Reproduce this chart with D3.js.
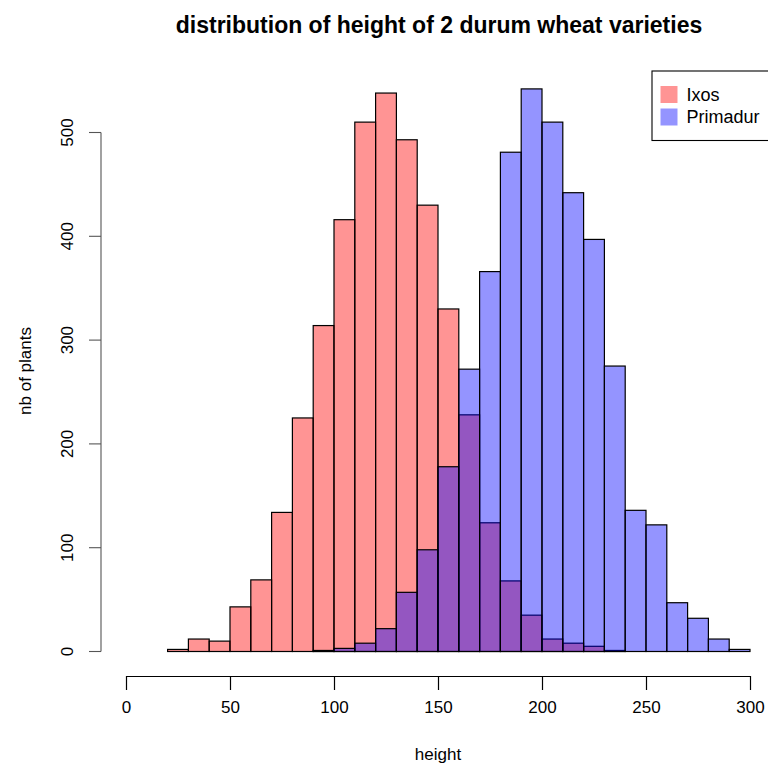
<!DOCTYPE html>
<html>
<head>
<meta charset="utf-8">
<script src="https://cdn.jsdelivr.net/npm/d3@7"></script>
<style>
  html, body { margin: 0; padding: 0; background: #fff; }
  svg { display: block; font-family: "Liberation Sans", Arial, Helvetica, sans-serif; }
</style>
</head>
<body>
<svg id="chart" width="768" height="765"></svg>
<script>
// ---- data (bin start, width 10) ----
const binWidth = 10;
const ixosBins = [20,30,40,50,60,70,80,90,100,110,120,130,140,150,160,170,180,190,200,210,220,230];
const ixosCounts = [2,12,10,43,69,134,225,314,416,510,538,493,430,330,228,124,68,35,12,8,5,1];
const primadurBins = [80,90,100,110,120,130,140,150,160,170,180,190,200,210,220,230,240,250,260,270,280,290,300];
const primadurCounts = [0,1,3,8,22,57,98,178,272,366,481,542,510,442,397,275,136,122,47,32,12,2,0];
const xTicks = [0,50,100,150,200,250,300];
const yTicks = [0,100,200,300,400,500];
const seriesNames = ["Ixos","Primadur"];
const seriesColors = ["rgba(255,0,0,0.42)","rgba(0,0,255,0.42)"];
const titleText = "distribution of height of 2 durum wheat varieties";
const xLabel = "height";
const yLabel = "nb of plants";

const svg = d3.select("#chart");
const x = d3.scaleLinear().domain([0,300]).range([126,750]);
const y = d3.scaleLinear().domain([0,500]).range([651.5,132.5]);

function drawHist(bins, counts, color) {
  svg.append("g").selectAll("rect")
    .data(bins.map((b,i)=>({x0:b, x1:b+binWidth, n:counts[i]})))
    .join("rect")
    .attr("x", d=>x(d.x0))
    .attr("width", d=>x(d.x1)-x(d.x0))
    .attr("y", d=>y(d.n))
    .attr("height", d=>y(0)-y(d.n))
    .attr("fill", color)
    .attr("stroke", "#000")
    .attr("stroke-width", 1.2);
}
drawHist(ixosBins, ixosCounts, seriesColors[0]);
drawHist(primadurBins, primadurCounts, seriesColors[1]);

// x axis
const gx = svg.append("g").attr("transform","translate(0,676)")
  .call(d3.axisBottom(x).tickValues(xTicks).tickSize(14).tickSizeOuter(0));
gx.selectAll("path,line").attr("stroke","#000").attr("stroke-width",1.2);
gx.selectAll("text").attr("y",37).attr("dy",0).attr("fill","#000")
  .style("font-size","17px").style("font-family","Liberation Sans, Arial, sans-serif");

// y axis
const gy = svg.append("g").attr("transform","translate(101,0)")
  .call(d3.axisLeft(y).tickValues(yTicks).tickSize(12).tickSizeOuter(0).offset(0));
gy.selectAll("path,line").attr("stroke","#555").attr("stroke-width",1.1);
gy.selectAll("text").attr("x",0).attr("dy",0).attr("text-anchor","middle")
  .attr("transform","translate(-28,0) rotate(-90)").attr("fill","#000")
  .style("font-size","17px").style("font-family","Liberation Sans, Arial, sans-serif");

// title & labels
svg.append("text").attr("x",439).attr("y",33).attr("text-anchor","middle")
  .style("font-weight","bold").style("font-size","23px").text(titleText);
svg.append("text").attr("x",438).attr("y",760).attr("text-anchor","middle")
  .style("font-size","17px").text(xLabel);
svg.append("text").attr("transform","translate(31,371) rotate(-90)").attr("text-anchor","middle")
  .style("font-size","17px").text(yLabel);

// legend
const lg = svg.append("g");
lg.append("rect").attr("x",652).attr("y",71).attr("width",150).attr("height",69.5)
  .attr("fill","#fff").attr("stroke","#000").attr("stroke-width",1.1);
seriesNames.forEach((name,i)=>{
  lg.append("rect").attr("x",660.5).attr("y",86+i*22.5).attr("width",17).attr("height",17)
    .attr("fill",seriesColors[i]);
  lg.append("text").attr("x",686.5).attr("y",100.5+i*22.5).style("font-size","18px").text(name);
});
</script>
</body>
</html>
